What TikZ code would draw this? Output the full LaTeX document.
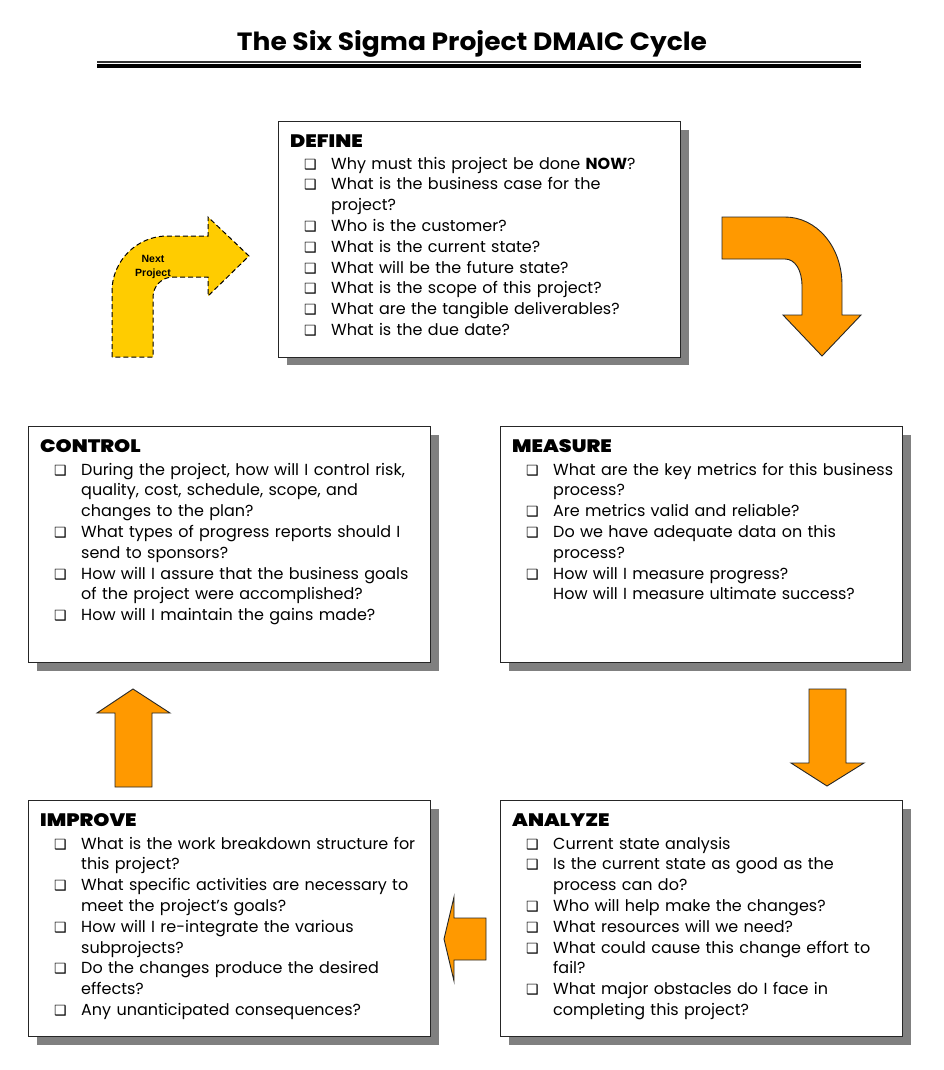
\documentclass[tikz,border=0pt]{standalone}
\usepackage{fontspec}
\usepackage{graphicx}
\setmainfont{Poppins}
\newfontfamily\hdfont{Poppins Black}[FakeStretch=1.14]
\newfontfamily\djv{DejaVu Sans}
\newfontfamily\arialfont{Liberation Sans}
\definecolor{orng}{HTML}{FF9900}
\definecolor{ylw}{HTML}{FFCC00}
\definecolor{shd}{HTML}{808080}
\newcommand\cbx{{\djv\fontsize{14}{14}\selectfont ❑}}
\newcommand\itm{\hspace*{14pt}\makebox[27pt][l]{\cbx}}
\newcommand\cnt{\hspace*{41pt}}
\tikzset{
  qbox/.style={draw=black!85, line width=1.3pt, fill=white, anchor=north west,
    minimum width=402pt, minimum height=236pt, inner sep=0pt},
  hd/.style={anchor=base west, inner sep=0pt, font=\hdfont\fontsize{18}{18}\selectfont},
  body/.style={anchor=north west, inner sep=0pt, text width=600pt, align=left,
    font=\fontsize{16}{20.8}\selectfont},
  blockarrow/.style={fill=orng, draw=black!85, line width=0.9pt, line join=miter},
  nextarrow/.style={fill=ylw, draw=black, line width=1pt, dash pattern=on 5pt off 3pt},
}
\begin{document}
\begin{tikzpicture}[x=1pt,y=-1pt]
\useasboundingbox (0,0) rectangle (944,1070);
\fill[white] (0,0) rectangle (944,1070);

% title
\node[anchor=base, inner sep=0pt] (title) at (472,51)
  {\resizebox{470pt}{20pt}{\bfseries The Six Sigma Project DMAIC Cycle}};
\coordinate (ruleL) at (97,62);
\coordinate (ruleR) at (861,62);
\draw[line width=2pt, black!80] (ruleL) -- (ruleR);
\draw[line width=4pt] ([yshift=-4.5pt]ruleL) -- ([yshift=-4.5pt]ruleR);

% shadows
\fill[shd] (287,130) rectangle (689,365);
\fill[shd] (37,435) rectangle (439,671);
\fill[shd] (509,435) rectangle (911,671);
\fill[shd] (37,809) rectangle (439,1045);
\fill[shd] (509,809) rectangle (911,1045);

% boxes
\node[qbox] (define) at (278,121) {};
\node[qbox] (control) at (28,426) {};
\node[qbox] (measure) at (500,426) {};
\node[qbox] (improve) at (28,800) {};
\node[qbox] (analyze) at (500,800) {};

% DEFINE
\node[hd] (defineh) at (290,147.5) {DEFINE};
\node[body] (definet) at (290,154.4) {\strut\itm Why must this project be done \textbf{NOW}?\\
\itm What is the business case for the\\
\cnt project?\\
\itm Who is the customer?\\
\itm What is the current state?\\
\itm What will be the future state?\\
\itm What is the scope of this project?\\
\itm What are the tangible deliverables?\\
\itm What is the due date?};

% CONTROL
\node[hd] (controlh) at (40,452.5) {CONTROL};
\node[body] (controlt) at (40,460.4) {\strut\itm During the project, how will I control risk,\\
\cnt quality, cost, schedule, scope, and\\
\cnt changes to the plan?\\
\itm What types of progress reports should I\\
\cnt send to sponsors?\\
\itm How will I assure that the business goals\\
\cnt of the project were accomplished?\\
\itm How will I maintain the gains made?};

% MEASURE
\node[hd] (measureh) at (512,452.5) {MEASURE};
\node[body] (measuret) at (512,460.4) {\strut\itm What are the key metrics for this business\\
\cnt process?\\
\itm Are metrics valid and reliable?\\
\itm Do we have adequate data on this\\
\cnt process?\\
\itm How will I measure progress?\\
\cnt How will I measure ultimate success?};

% IMPROVE
\node[hd] (improveh) at (40,826.5) {IMPROVE};
\node[body] (improvet) at (40,834.4) {\strut\itm What is the work breakdown structure for\\
\cnt this project?\\
\itm What specific activities are necessary to\\
\cnt meet the project’s goals?\\
\itm How will I re-integrate the various\\
\cnt subprojects?\\
\itm Do the changes produce the desired\\
\cnt effects?\\
\itm Any unanticipated consequences?};

% ANALYZE
\node[hd] (analyzeh) at (512,826.5) {ANALYZE};
\node[body] (analyzet) at (512,834.4) {\strut\itm Current state analysis\\
\itm Is the current state as good as the\\
\cnt process can do?\\
\itm Who will help make the changes?\\
\itm What resources will we need?\\
\itm What could cause this change effort to\\
\cnt fail?\\
\itm What major obstacles do I face in\\
\cnt completing this project?};

% Next project arrow
\draw[nextarrow] (112,357) -- (112,291) .. controls (112,261) and (137,236) .. (167,236)
  -- (208,236) -- (208,217) -- (249,256) -- (208,296) -- (208,277) -- (173,277)
  .. controls (162,277) and (153,286) .. (153,297) -- (153,357) -- cycle;
\node[font=\arialfont\bfseries\fontsize{10.5}{14}\selectfont, align=center, inner sep=0pt]
  (next) at (153,266.5) {Next\\Project};

% curved arrow DEFINE -> MEASURE
\draw[blockarrow] (722,217) -- (785,217) .. controls (816,217) and (842,246) .. (842,285)
  -- (842,315) -- (861,315) -- (822,356) -- (783,315) -- (802,315) -- (802,286)
  .. controls (802,270) and (795,259) .. (785,259) -- (722,259) -- cycle;

% MEASURE -> ANALYZE
\draw[blockarrow] (809,689) -- (846,689) -- (846,763) -- (864,763) -- (827,786)
  -- (791,763) -- (809,763) -- cycle;

% ANALYZE -> IMPROVE
\draw[blockarrow] (486,918) -- (454,918) -- (454,897) -- (444,939) -- (454,981)
  -- (454,960) -- (486,960) -- cycle;

% IMPROVE -> CONTROL
\draw[blockarrow] (115,787) -- (115,713) -- (97,713) -- (133,689) -- (170,713)
  -- (152,713) -- (152,787) -- cycle;
\end{tikzpicture}
\end{document}
